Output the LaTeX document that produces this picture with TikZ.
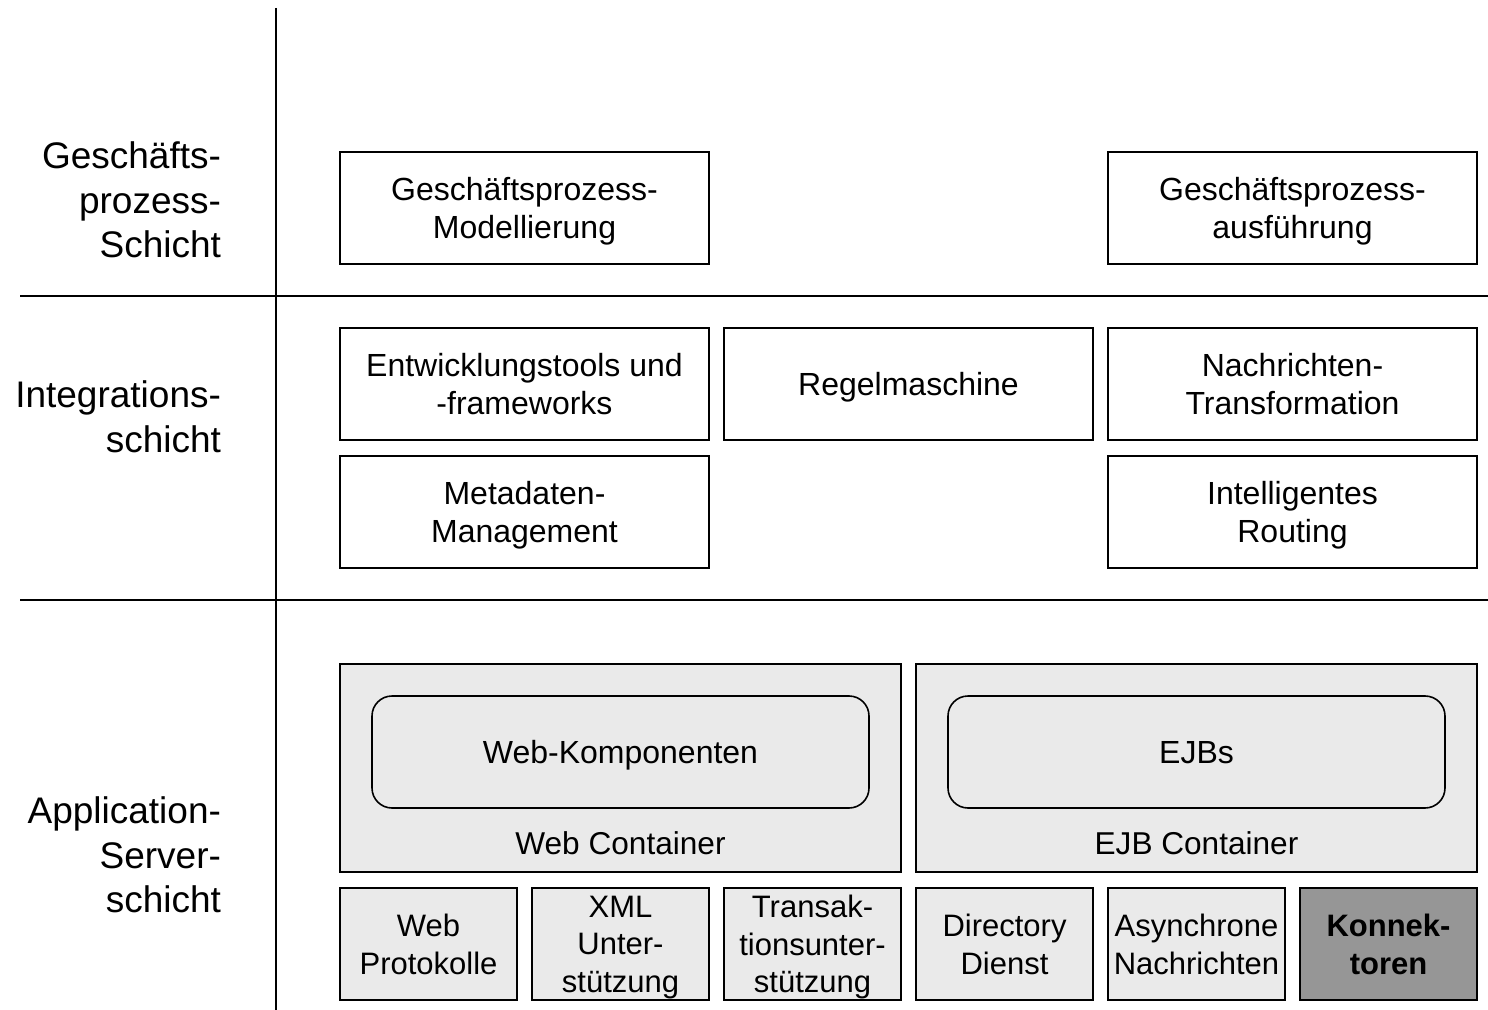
\documentclass[tikz,border=0pt]{standalone}
\usepackage{fontspec}
\setmainfont{Liberation Sans}
\definecolor{boxgray}{HTML}{EAEAEA}
\definecolor{darkgray}{HTML}{969696}
\tikzset{
  layer/.style={align=right, anchor=east, font=\fontsize{18.5}{22.3}\selectfont},
  box/.style={draw, line width=0.8pt, align=center, inner sep=0pt, text depth=0pt,
    minimum width=184.5pt, minimum height=56pt, font=\fontsize{16}{19}\selectfont},
  gpbox/.style={box, text depth=-2.5pt},
  small/.style={box, fill=boxgray, minimum width=88.5pt,
    font=\fontsize{15.5}{18.8}\selectfont},
  container/.style={box, fill=boxgray, minimum width=280.5pt, minimum height=104pt},
  inner/.style={box, fill=boxgray, rounded corners=10pt, minimum width=248.5pt},
  sep/.style={line width=0.8pt}
}
\begin{document}
\begin{tikzpicture}[x=0.5pt,y=-0.5pt]
\useasboundingbox (0,0) rectangle (1488,1010);

% Schichten
\draw[sep] (276,8) -- (276,1010);
\draw[sep] (20,296) -- (1488,296);
\draw[sep] (20,600) -- (1488,600);

\node[layer] (gps) at (228,200) {Geschäfts-\\prozess-\\Schicht};
\node[layer] (ints) at (228,417) {Integrations-\\schicht};
\node[layer] (ass) at (228,855) {Application-\\Server-\\schicht};

% Geschaeftsprozess-Schicht
\node[gpbox] (gpm) at (524.5,208) {Geschäftsprozess-\\Modellierung};
\node[gpbox] (gpa) at (1292.5,208) {Geschäftsprozess-\\ausführung};

% Integrationsschicht
\node[box] (dev) at (524.5,384) {Entwicklungstools und\\-frameworks};
\node[box] (rules) at (908.5,384) {Regelmaschine};
\node[box] (trans) at (1292.5,384) {Nachrichten-\\Transformation};
\node[box] (meta) at (524.5,512) {Metadaten-\\Management};
\node[box] (route) at (1292.5,512) {Intelligentes\\Routing};

% Application-Server-Schicht
\node[container] (webc) at (620.5,768) {};
\node[container] (ejbc) at (1196.5,768) {};
\node[inner] (webk) at (620.5,752) {Web-Komponenten};
\node[inner] (ejbs) at (1196.5,752) {EJBs};
\node[font=\fontsize{15.8}{19}\selectfont] (webl) at (620.5,843) {Web Container};
\node[font=\fontsize{15.8}{19}\selectfont] (ejbl) at (1196.5,843) {EJB Container};

\node[small] (wp) at (428.5,944) {Web\\Protokolle};
\node[small] (xml) at (620.5,944) {XML\\Unter-\\stützung};
\node[small] (tx) at (812.5,944) {Transak-\\tionsunter-\\stützung};
\node[small] (dir) at (1004.5,944) {Directory\\Dienst};
\node[small] (async) at (1196.5,944) {Asynchrone\\Nachrichten};
\node[small, fill=darkgray, font=\fontsize{15.5}{18.8}\selectfont\bfseries] (konn) at (1388.5,944) {Konnek-\\toren};

\end{tikzpicture}
\end{document}
